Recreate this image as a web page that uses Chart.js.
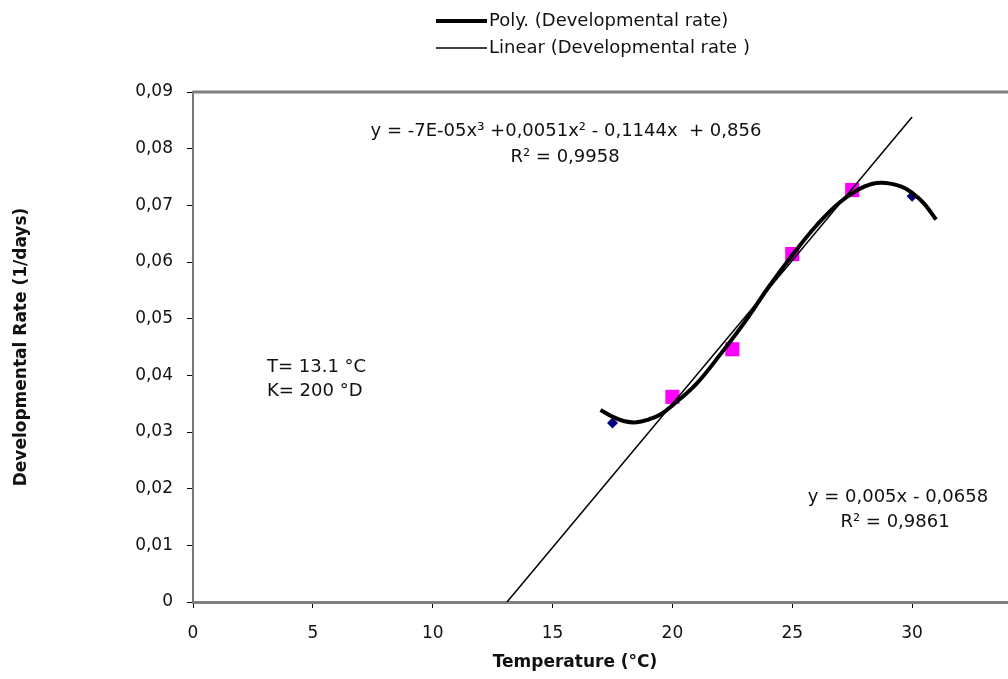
<!DOCTYPE html>
<html>
<head>
<meta charset="utf-8">
<script src="https://cdn.jsdelivr.net/npm/chart.js@4"></script>
<style>
  html, body { margin: 0; padding: 0; background: #fff; }
  #wrap { width: 1008px; height: 679px; position: relative; }
</style>
</head>
<body>
<div id="wrap"><canvas id="chart"></canvas></div>
<script>
// measured points
const tempBlue = [17.5, 30];
const rateBlue = [0.0316, 0.0716];
const tempPink = [20, 22.5, 25, 27.5];
const ratePink = [0.0362, 0.0446, 0.0614, 0.0727];

// trend lines
const polyTemp = [17, 17.5, 18, 18.5, 19, 19.5, 20, 21, 22, 23, 24, 25, 26, 27, 28, 28.7, 29.5, 30, 30.5, 31];
const polyRate = [0.0339, 0.0327, 0.0319, 0.0317, 0.0322, 0.0331, 0.0347, 0.0385, 0.0437, 0.0493, 0.0555, 0.0612, 0.0664, 0.0706, 0.0733, 0.0740, 0.0734, 0.0722, 0.0703, 0.0675];
const linTemp = [13.1, 30];
const linRate = [0, 0.0856];

const legendLabels = ['Poly. (Developmental rate)', 'Linear (Developmental rate )'];
const polyEq = ['y = -7E-05x³ +0,0051x² - 0,1144x  + 0,856', 'R² = 0,9958'];
const linEq = ['y = 0,005x - 0,0658', 'R² = 0,9861'];
const thresh = ['T= 13.1 °C', 'K= 200 °D'];
const xTitle = 'Temperature (°C)';
const yTitle = 'Developmental Rate (1/days)';

function toPoints(xs, ys) {
    return xs.map((x, i) => ({ x: x, y: ys[i] }));
}

Chart.defaults.font.family = "'DejaVu Sans', sans-serif";
Chart.defaults.font.size = 17;
Chart.defaults.color = '#111';

const extras = {
    id: 'extras',
    afterDraw(chart) {
        const ctx = chart.ctx;
        const a = chart.chartArea;
        ctx.save();
        // top frame line
        ctx.strokeStyle = '#808080';
        ctx.lineWidth = 3;
        ctx.beginPath();
        ctx.moveTo(a.left, a.top);
        ctx.lineTo(a.right, a.top);
        ctx.stroke();

        // legend
        ctx.fillStyle = '#111';
        ctx.textBaseline = 'middle';
        ctx.textAlign = 'left';
        ctx.font = "18px 'DejaVu Sans'";
        const legendSets = [chart.data.datasets[0], chart.data.datasets[1]];
        legendSets.forEach((ds, i) => {
            const y = 21 + i * 27;
            ctx.strokeStyle = ds.borderColor;
            ctx.lineWidth = ds.borderWidth;
            ctx.beginPath();
            ctx.moveTo(436, y);
            ctx.lineTo(487, y);
            ctx.stroke();
            ctx.fillText(legendLabels[i], 489, y);
        });

        // equations
        ctx.textAlign = 'center';
        ctx.fillText(polyEq[0], 566, 131);
        ctx.fillText(polyEq[1], 565, 157);
        ctx.fillText(linEq[0], 898, 497);
        ctx.fillText(linEq[1], 895, 522);
        ctx.textAlign = 'left';
        ctx.fillText(thresh[0], 267, 367);
        ctx.fillText(thresh[1], 267, 391);

        // x axis title
        ctx.textAlign = 'center';
        ctx.font = "bold 17px 'DejaVu Sans'";
        ctx.fillText(xTitle, 575, 663);
        ctx.restore();
    }
};

new Chart(document.getElementById('chart'), {
    type: 'scatter',
    data: {
        datasets: [{
            label: legendLabels[0],
            data: toPoints(polyTemp, polyRate),
            showLine: true,
            borderColor: '#000',
            borderWidth: 4,
            pointRadius: 0,
            tension: 0.4,
            order: 0
        }, {
            label: legendLabels[1],
            data: toPoints(linTemp, linRate),
            showLine: true,
            borderColor: '#000',
            borderWidth: 1.5,
            pointRadius: 0,
            order: 1
        }, {
            data: toPoints(tempBlue, rateBlue),
            pointStyle: 'rectRot',
            pointRadius: 5.5,
            backgroundColor: '#000080',
            borderColor: '#000080',
            borderWidth: 0,
            order: 2
        }, {
            data: toPoints(tempPink, ratePink),
            pointStyle: 'rect',
            pointRadius: 10,
            backgroundColor: '#ff00ff',
            borderColor: '#ff00ff',
            borderWidth: 0,
            order: 3
        }]
    },
    options: {
        responsive: true,
        maintainAspectRatio: false,
        animation: false,
        devicePixelRatio: 1,
        layout: { autoPadding: false, padding: { top: 92, left: 0, right: 0, bottom: 0 } },
        plugins: {
            legend: { display: false },
            tooltip: { enabled: false }
        },
        scales: {
            x: {
                type: 'linear',
                min: 0,
                max: 34,
                afterFit: s => { s.height = 77; s.paddingRight = 0; s.paddingLeft = 0; },
                border: { color: '#808080', width: 3 },
                grid: { drawOnChartArea: false, tickLength: 6, tickColor: '#000', color: '#000' },
                ticks: { stepSize: 5, includeBounds: false, padding: 15, color: '#111', maxRotation: 0 }
            },
            y: {
                min: 0,
                max: 0.09,
                afterFit: s => { s.width = 193; },
                border: { color: '#777', width: 2 },
                grid: { drawOnChartArea: false, tickLength: 6, tickColor: '#000', color: '#000' },
                ticks: {
                    stepSize: 0.01,
                    padding: 14,
                    color: '#111',
                    callback: v => v === 0 ? '0' : v.toFixed(2).replace('.', ',')
                },
                title: {
                    display: true,
                    text: yTitle,
                    font: { weight: 'bold', size: 17 },
                    color: '#111',
                    padding: { top: 11, bottom: 0 }
                }
            }
        }
    },
    plugins: [extras]
});
</script>
</body>
</html>
